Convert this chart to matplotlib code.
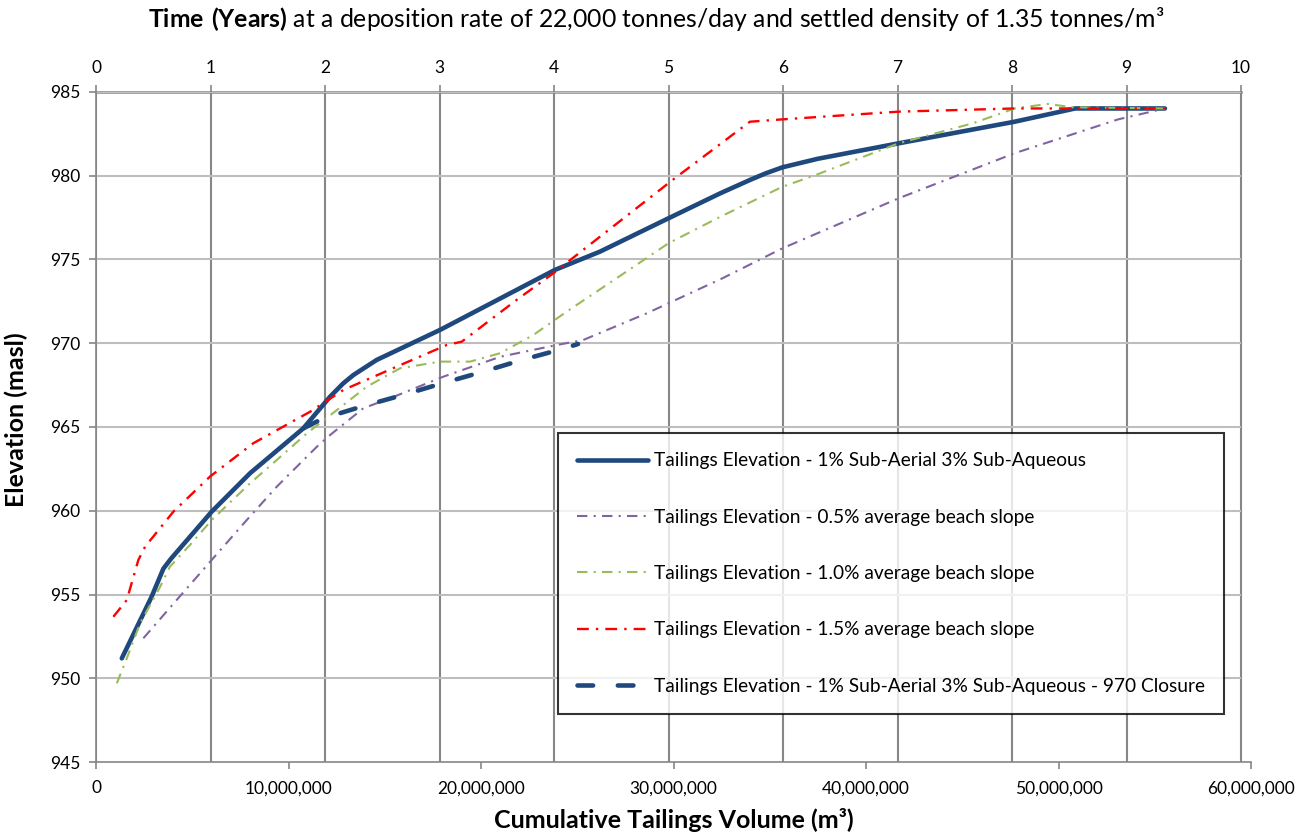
import numpy as np
import matplotlib
matplotlib.use("Agg")
import matplotlib.pyplot as plt

plt.rcParams['font.family'] = ['Lato', 'DejaVu Sans']
plt.rcParams['mathtext.fontset'] = 'custom'
plt.rcParams['mathtext.rm'] = 'Lato'
plt.rcParams['mathtext.bf'] = 'Lato:bold'

# cumulative volume in millions of m3, elevation in masl
vol_main = [1.34, 2.89, 3.5, 3.9, 6.01, 8.0, 10.77, 12.16, 12.85, 13.37, 14.58, 17.87,
            23.84, 26.18, 29.74, 32.43, 34.0, 34.79, 35.66, 37.5, 41.69, 47.72, 50.86, 55.53]
elev_main = [951.2, 954.88, 956.55, 957.15, 959.95, 962.24, 964.92, 966.81, 967.61, 968.1, 969.0, 970.79,
             974.37, 975.46, 977.45, 978.94, 979.75, 980.13, 980.49, 981.0, 981.92, 983.21, 984.0, 984.0]

vol_05 = [2.46, 4.19, 6.01, 7.83, 9.39, 11.47, 12.16, 13.89, 15.27, 18.04, 21.0, 23.93,
          25.31, 28.61, 32.54, 35.66, 41.69, 47.72, 53.1, 55.53]
elev_05 = [952.4, 954.68, 957.07, 959.45, 961.44, 963.82, 964.52, 966.12, 966.71, 968.0, 969.19, 969.89,
           970.19, 971.78, 973.87, 975.66, 978.64, 981.33, 983.35, 984.0]

vol_10 = [1.08, 1.6, 2.29, 3.33, 3.84, 4.88, 6.01, 8.0, 9.39, 10.95, 12.85, 14.06, 15.79, 17.87,
          19.43, 20.99, 22.72, 24.45, 27.04, 29.74, 32.43, 35.66, 37.38, 41.69, 45.56, 47.72,
          49.44, 50.73, 55.53]
elev_10 = [949.71, 951.2, 953.29, 955.47, 956.67, 957.96, 959.45, 961.64, 963.03, 964.62, 966.31, 967.4,
           968.5, 968.9, 968.9, 969.4, 970.49, 971.88, 973.87, 975.96, 977.54, 979.33, 980.03, 981.92,
           983.12, 984.0, 984.27, 984.07, 984.0]

vol_15 = [0.9, 1.6, 2.2, 2.55, 4.02, 5.92, 8.17, 11.12, 12.85, 15.62, 18.22, 19.0, 21.85, 23.76,
          26.18, 30.06, 33.97, 35.66, 41.69, 47.72, 55.53]
elev_15 = [953.68, 954.68, 957.07, 957.86, 959.95, 962.04, 964.03, 965.91, 967.21, 968.6, 969.89, 970.09,
           972.58, 974.17, 976.35, 979.83, 983.21, 983.35, 983.81, 984.0, 984.0]

vol_closure = [10.77, 11.81, 13.89, 15.95, 18.03, 20.05, 22.13, 24.21, 25.04]
elev_closure = [964.92, 965.52, 966.25, 966.91, 967.62, 968.28, 969.0, 969.65, 969.95]

labels = ['Tailings Elevation - 1% Sub-Aerial 3% Sub-Aqueous',
          'Tailings Elevation - 0.5% average beach slope',
          'Tailings Elevation - 1.0% average beach slope',
          'Tailings Elevation - 1.5% average beach slope',
          'Tailings Elevation - 1% Sub-Aerial 3% Sub-Aqueous - 970 Closure']

vol_per_year = 22000 * 365 / 1.35
years = np.arange(0, 11)
x_ticks = np.arange(0, 60e6 + 1, 10e6)
y_ticks = np.arange(945, 986, 5)

M = 1e6
W, H = 1313, 838
fig = plt.figure(figsize=(W / 100, H / 100), dpi=100)
ax = fig.add_axes([96 / W, 1 - 762.3 / H, 1155 / W, 670.6 / H])
ax2 = ax.twiny()
ax.set_zorder(ax2.get_zorder() + 1)
ax.patch.set_visible(False)

grey = '#868686'
ax.set_xlim(0, 60e6)
ax.set_ylim(945, 985)
ax2.set_xlim(0, 60e6 / vol_per_year)

# gridlines: vertical at each year, horizontal at elevation ticks
ax2.set_xticks(years)
ax2.grid(axis='x', color=grey, lw=1.5)
ax.hlines(y_ticks[1:], 0, 10 * vol_per_year, color='#BEBEBE', lw=1.5, zorder=0.5)

dashdot = (0, (5, 3, 1, 3))
ax.plot(np.array(vol_main) * M, elev_main, color='#1F497D', lw=3.3, solid_capstyle='round',
        solid_joinstyle='round', label=labels[0], zorder=2)
ax.plot(np.array(vol_05) * M, elev_05, color='#8064A2', lw=1.5, ls=dashdot, label=labels[1], zorder=3)
ax.plot(np.array(vol_10) * M, elev_10, color='#9BBB59', lw=1.5, ls=dashdot, label=labels[2], zorder=4)
ax.plot(np.array(vol_15) * M, elev_15, color='#FF0000', lw=1.7, ls=dashdot, label=labels[3], zorder=5)
ax.plot(np.array(vol_closure) * M, elev_closure, color='#1F497D', lw=3.3, ls=(0, (3.4, 5.4)),
        dash_capstyle='round', label=labels[4], zorder=6)

for s in ['right', 'top']:
    ax.spines[s].set_visible(False)
for s in ['right', 'bottom', 'left']:
    ax2.spines[s].set_visible(False)
for s in ['left', 'bottom']:
    ax.spines[s].set_color(grey)
    ax.spines[s].set_linewidth(1.2)
ax2.spines['top'].set_color(grey)
ax2.spines['top'].set_linewidth(1.8)
ax2.spines['top'].set_bounds(0, 10)

ax.set_xticks(x_ticks)
ax.set_xticklabels([f'{int(v):,}' for v in x_ticks])
ax.set_yticks(y_ticks)
ax.tick_params(axis='both', colors=grey, labelcolor='black', labelsize=12.5, length=5, width=1.2)
ax.tick_params(axis='x', pad=8)
ax.tick_params(axis='y', pad=6)
ax2.tick_params(axis='x', colors=grey, labelcolor='black', labelsize=12.5, length=5, width=1.2, pad=6)
ax2.set_xticklabels([str(y) for y in years])

fig.text(673.5 / W, 1 - 820 / H, 'Cumulative Tailings Volume (m³)', fontsize=18, fontweight='bold',
         ha='center', va='center')
fig.text(16 / W, 1 - 420 / H, 'Elevation (masl)', fontsize=18, fontweight='bold',
         ha='center', va='center', rotation=90)
fig.text(656 / W, 1 - 19 / H,
         r'$\mathbf{Time\ (Years)}$ at a deposition rate of 22,000 tonnes/day and settled density of 1.35 tonnes/m³',
         ha='center', va='center', fontsize=17.8)

leg = ax.legend(loc='upper left', bbox_to_anchor=(558 / W, 1 - 433.3 / H), bbox_transform=fig.transFigure,
                borderaxespad=0, fontsize=13.8, frameon=True, fancybox=False, edgecolor='black',
                handlelength=3.7, handletextpad=0.31, labelspacing=2.05, borderpad=1.0)
leg.get_frame().set_linewidth(1.5)

fig.savefig('out.png', dpi=100)
